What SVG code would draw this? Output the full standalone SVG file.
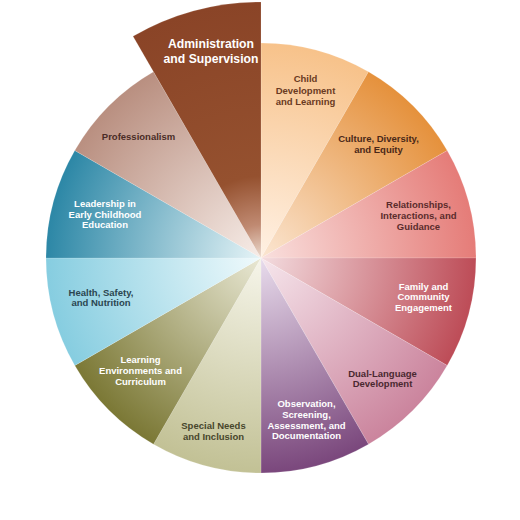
<svg xmlns="http://www.w3.org/2000/svg" width="520" height="520" viewBox="0 0 520 520">
<defs>
<radialGradient id="gAdm" gradientUnits="userSpaceOnUse" cx="261" cy="258" r="256"><stop offset="0" stop-color="#ecdcd0"/><stop offset="0.13" stop-color="#c08a72"/><stop offset="0.32" stop-color="#95512f"/><stop offset="1" stop-color="#8a4427"/></radialGradient>
<radialGradient id="gChild" gradientUnits="userSpaceOnUse" cx="261" cy="258" r="215"><stop offset="0" stop-color="#fff1e4"/><stop offset="1" stop-color="#f7c28a"/></radialGradient>
<radialGradient id="gCult" gradientUnits="userSpaceOnUse" cx="261" cy="258" r="215"><stop offset="0" stop-color="#fbe6d2"/><stop offset="1" stop-color="#e5913c"/></radialGradient>
<radialGradient id="gRel" gradientUnits="userSpaceOnUse" cx="261" cy="258" r="215"><stop offset="0" stop-color="#f9e0de"/><stop offset="1" stop-color="#e57c78"/></radialGradient>
<radialGradient id="gFam" gradientUnits="userSpaceOnUse" cx="261" cy="258" r="215"><stop offset="0" stop-color="#f3dcdf"/><stop offset="1" stop-color="#bd4c57"/></radialGradient>
<radialGradient id="gDual" gradientUnits="userSpaceOnUse" cx="261" cy="258" r="215"><stop offset="0" stop-color="#f6e6ec"/><stop offset="1" stop-color="#cb849d"/></radialGradient>
<radialGradient id="gObs" gradientUnits="userSpaceOnUse" cx="261" cy="258" r="215"><stop offset="0" stop-color="#e8dcec"/><stop offset="1" stop-color="#7a477c"/></radialGradient>
<radialGradient id="gSpec" gradientUnits="userSpaceOnUse" cx="261" cy="258" r="215"><stop offset="0" stop-color="#f6f5ea"/><stop offset="1" stop-color="#c2c195"/></radialGradient>
<radialGradient id="gLearn" gradientUnits="userSpaceOnUse" cx="261" cy="258" r="215"><stop offset="0" stop-color="#e9e8d4"/><stop offset="1" stop-color="#7b7835"/></radialGradient>
<radialGradient id="gHealth" gradientUnits="userSpaceOnUse" cx="261" cy="258" r="215"><stop offset="0" stop-color="#f0fafc"/><stop offset="1" stop-color="#86cde0"/></radialGradient>
<radialGradient id="gLead" gradientUnits="userSpaceOnUse" cx="261" cy="258" r="215"><stop offset="0" stop-color="#e6f4f7"/><stop offset="1" stop-color="#2c87a6"/></radialGradient>
<radialGradient id="gProf" gradientUnits="userSpaceOnUse" cx="261" cy="258" r="215"><stop offset="0" stop-color="#f7ede8"/><stop offset="1" stop-color="#b98f80"/></radialGradient>
</defs>
<style>
.s{stroke:#ffffff;stroke-opacity:0.25;stroke-width:0.6}
text{font-family:"Liberation Sans",Arial,sans-serif;font-weight:bold;font-size:9.5px;text-anchor:middle}
.w{fill:#ffffff}
.adm{font-size:12.2px}
</style>
<g id="connectors"/>
<g id="child-development">
<path class="s" d="M261,258 L261,43 A215,215 0 0 1 368.5,71.8 Z" fill="url(#gChild)"/>
<text fill="#6a3a22"><tspan x="305.5" y="82">Child</tspan><tspan x="305.5" y="93.5">Development</tspan><tspan x="305.5" y="105">and Learning</tspan></text>
</g>
<g id="culture-diversity">
<path class="s" d="M261,258 L368.5,71.8 A215,215 0 0 1 447.2,150.5 Z" fill="url(#gCult)"/>
<text fill="#4a2818"><tspan x="378.5" y="141.5">Culture, Diversity,</tspan><tspan x="378.5" y="153">and Equity</tspan></text>
</g>
<g id="relationships">
<path class="s" d="M261,258 L447.2,150.5 A215,215 0 0 1 476,258 Z" fill="url(#gRel)"/>
<text fill="#5a2c2c"><tspan x="418.5" y="207.5">Relationships,</tspan><tspan x="418.5" y="218.5">Interactions, and</tspan><tspan x="418.5" y="229.5">Guidance</tspan></text>
</g>
<g id="family-community">
<path class="s" d="M261,258 L476,258 A215,215 0 0 1 447.2,365.5 Z" fill="url(#gFam)"/>
<text class="w"><tspan x="423.5" y="289.5">Family and</tspan><tspan x="423.5" y="300">Community</tspan><tspan x="423.5" y="310.5">Engagement</tspan></text>
</g>
<g id="dual-language">
<path class="s" d="M261,258 L447.2,365.5 A215,215 0 0 1 368.5,444.2 Z" fill="url(#gDual)"/>
<text fill="#4a2830"><tspan x="382.5" y="376.5">Dual-Language</tspan><tspan x="382.5" y="387">Development</tspan></text>
</g>
<g id="observation">
<path class="s" d="M261,258 L368.5,444.2 A215,215 0 0 1 261,473 Z" fill="url(#gObs)"/>
<text class="w"><tspan x="306.5" y="407">Observation,</tspan><tspan x="306.5" y="417.5">Screening,</tspan><tspan x="306.5" y="428.5">Assessment, and</tspan><tspan x="306.5" y="439">Documentation</tspan></text>
</g>
<g id="special-needs">
<path class="s" d="M261,258 L261,473 A215,215 0 0 1 153.5,444.2 Z" fill="url(#gSpec)"/>
<text fill="#47462c"><tspan x="213.5" y="428.5">Special Needs</tspan><tspan x="213.5" y="439.5">and Inclusion</tspan></text>
</g>
<g id="learning-environments">
<path class="s" d="M261,258 L153.5,444.2 A215,215 0 0 1 74.8,365.5 Z" fill="url(#gLearn)"/>
<text class="w"><tspan x="140.5" y="363">Learning</tspan><tspan x="140.5" y="374">Environments and</tspan><tspan x="140.5" y="384.5">Curriculum</tspan></text>
</g>
<g id="health-safety">
<path class="s" d="M261,258 L74.8,365.5 A215,215 0 0 1 46,258 Z" fill="url(#gHealth)"/>
<text fill="#2b4650"><tspan x="101" y="295.5">Health, Safety,</tspan><tspan x="101" y="306">and Nutrition</tspan></text>
</g>
<g id="leadership">
<path class="s" d="M261,258 L46,258 A215,215 0 0 1 74.8,150.5 Z" fill="url(#gLead)"/>
<text class="w"><tspan x="105" y="207">Leadership in</tspan><tspan x="105" y="217.5">Early Childhood</tspan><tspan x="105" y="228">Education</tspan></text>
</g>
<g id="professionalism">
<path class="s" d="M261,258 L74.8,150.5 A215,215 0 0 1 153.5,71.8 Z" fill="url(#gProf)"/>
<text fill="#4a2c26"><tspan x="138.5" y="139.5">Professionalism</tspan></text>
</g>
<g id="administration">
<path class="s" d="M261,258 L133,36.3 A256,256 0 0 1 261,2 Z" fill="url(#gAdm)"/>
<text class="w adm"><tspan x="211" y="47.5">Administration</tspan><tspan x="211" y="62.5">and Supervision</tspan></text>
</g>
</svg>
